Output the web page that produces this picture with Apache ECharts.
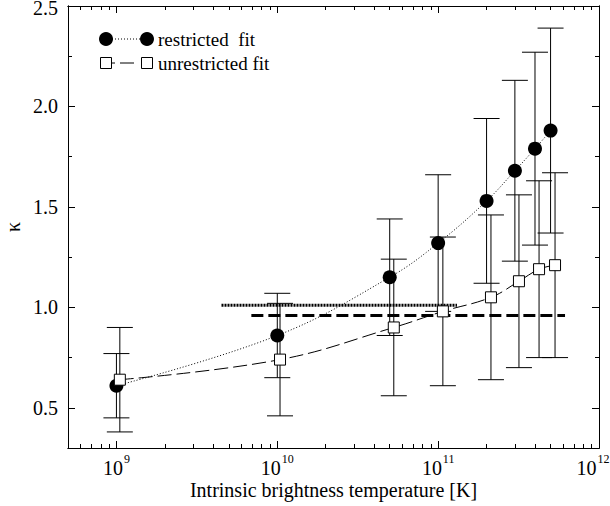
<!DOCTYPE html>
<html><head><meta charset="utf-8">
<script src="https://cdn.jsdelivr.net/npm/echarts@6/dist/echarts.min.js"></script>
<style>html,body{margin:0;padding:0;background:#fff}#c{width:610px;height:506px}</style>
</head><body><div id="c"></div>
<script>
// ---- data ----
const xRestricted   = [1e9, 1e10, 5e10, 1e11, 2e11, 3e11, 4e11, 5e11];
const kRestricted   = [0.61, 0.86, 1.15, 1.32, 1.53, 1.68, 1.79, 1.88];
const errRestricted = [0.16, 0.21, 0.29, 0.34, 0.41, 0.45, 0.48, 0.51];

const xUnrestricted   = [1.05e9, 1.04e10, 5.3e10, 1.07e11, 2.13e11, 3.18e11, 4.24e11, 5.33e11];
const kUnrestricted   = [0.64, 0.74, 0.90, 0.98, 1.05, 1.13, 1.19, 1.21];
const errUnrestricted = [0.26, 0.28, 0.34, 0.37, 0.41, 0.43, 0.44, 0.46];

const meanRestrictedX = [4.5e9, 1.31e11];
const meanRestrictedK = 1.01;
const meanUnrestrictedX = [6.9e9, 6.15e11];
const meanUnrestrictedK = 0.96;

const xMajorTicks = [1e9, 1e10, 1e11, 1e12];
const xMinorTicks = [6e8, 7e8, 8e8, 9e8,
  2e9, 3e9, 4e9, 5e9, 6e9, 7e9, 8e9, 9e9,
  2e10, 3e10, 4e10, 5e10, 6e10, 7e10, 8e10, 9e10,
  2e11, 3e11, 4e11, 5e11, 6e11, 7e11, 8e11, 9e11];
const yMajorTicks = [0.5, 1.0, 1.5, 2.0, 2.5];
const yMinorTicks = [0.75, 1.25, 1.75, 2.25];

const legendNames = ['restricted  fit', 'unrestricted fit'];
const xName = 'Intrinsic brightness temperature [K]';
const yName = 'κ';

// ---- chart ----
const FONT = 'Liberation Serif';
const chart = echarts.init(document.getElementById('c'), null, {renderer: 'svg'});

function xAx(pos, ticks, len, withLabels) {
  const a = {
    type: 'log', logBase: 10, min: 5e8, max: 1e12, position: pos, gridIndex: 0,
    axisLine: {show: true, lineStyle: {color: '#000', width: 1}},
    axisTick: {show: true, inside: true, length: len, customValues: ticks, lineStyle: {color: '#000', width: 1}},
    axisLabel: {show: false},
    splitLine: {show: false}, minorTick: {show: false}, minorSplitLine: {show: false}
  };
  if (withLabels) {
    a.axisLabel = {
      show: true, customValues: xMajorTicks, margin: 5, hideOverlap: false,
      formatter: v => {
        const e = Math.round(Math.log10(v));
        return '{b|10}{s|' + e + '}' + (e >= 12 ? '{sp|}' : '');
      },
      rich: {
        b: {fontFamily: FONT, fontSize: 20, lineHeight: 25, color: '#000', verticalAlign: 'bottom'},
        s: {fontFamily: FONT, fontSize: 12, color: '#000', verticalAlign: 'top', padding: [0, 0, 0, 1]},
        sp: {width: 12, height: 1}
      }
    };
    a.name = xName; a.nameLocation = 'middle'; a.nameGap = 34; a.nameMoveOverlap = false;
    a.nameTextStyle = {fontFamily: FONT, fontSize: 20, color: '#000', lineHeight: 16};
  }
  return a;
}
function yAx(pos, ticks, len, withLabels) {
  const a = {
    type: 'value', min: 0.3, max: 2.5, position: pos, gridIndex: 0,
    axisLine: {show: true, lineStyle: {color: '#000', width: 1}},
    axisTick: {show: true, inside: true, length: len, customValues: ticks, lineStyle: {color: '#000', width: 1}},
    axisLabel: {show: false},
    splitLine: {show: false}
  };
  if (withLabels) {
    a.axisLabel = {show: true, customValues: yMajorTicks, margin: 10,
      formatter: v => (v >= 2.5 ? '{top|' + v.toFixed(1) + '}' : v.toFixed(1)),
      lineHeight: 12, fontFamily: FONT, fontSize: 20, color: '#000',
      rich: {top: {fontFamily: FONT, fontSize: 20, color: '#000', lineHeight: 12, padding: [4, 0, 0, 0]}}};
    a.name = yName; a.nameLocation = 'middle'; a.nameRotate = 90; a.nameGap = 47; a.nameMoveOverlap = false;
    a.nameTextStyle = {fontFamily: FONT, fontSize: 20, color: '#000', lineHeight: 16};
  }
  return a;
}

function errorSeries(xs, ks, es, z) {
  return {
    type: 'custom', xAxisIndex: 0, yAxisIndex: 0, z: z, silent: true,
    data: xs.map((x, i) => [x, ks[i] - es[i], ks[i] + es[i]]),
    encode: {x: 0, y: [1, 2]},
    renderItem(params, api) {
      const x = api.value(0);
      const lo = api.coord([x, api.value(1)]);
      const hi = api.coord([x, api.value(2)]);
      const w = 13;
      const style = {stroke: '#000', lineWidth: 1, fill: null};
      return {type: 'group', children: [
        {type: 'line', shape: {x1: lo[0], y1: lo[1], x2: hi[0], y2: hi[1]}, style},
        {type: 'line', shape: {x1: lo[0] - w, y1: lo[1], x2: lo[0] + w, y2: lo[1]}, style},
        {type: 'line', shape: {x1: hi[0] - w, y1: hi[1], x2: hi[0] + w, y2: hi[1]}, style}
      ]};
    }
  };
}

const option = {
  animation: false,
  backgroundColor: '#fff',
  grid: {left: 68, right: 11, top: 6, bottom: 58, containLabel: false, outerBoundsMode: 'none'},
  xAxis: [
    xAx('bottom', xMajorTicks, 7, true),
    xAx('bottom', xMinorTicks, 4, false),
    xAx('top', xMajorTicks, 7, false),
    xAx('top', xMinorTicks, 4, false)
  ],
  yAxis: [
    yAx('left', yMajorTicks, 7, true),
    yAx('left', yMinorTicks, 4, false),
    yAx('right', yMajorTicks, 7, false),
    yAx('right', yMinorTicks, 4, false)
  ],
  series: [
    {
      type: 'line', xAxisIndex: 0, yAxisIndex: 0, z: 2, symbol: 'none', silent: true,
      data: meanRestrictedX.map(x => [x, meanRestrictedK]),
      lineStyle: {color: '#000', width: 3, type: [2, 1]}
    },
    {
      type: 'line', xAxisIndex: 0, yAxisIndex: 0, z: 2, symbol: 'none', silent: true,
      data: meanUnrestrictedX.map(x => [x, meanUnrestrictedK]),
      lineStyle: {color: '#000', width: 3, type: [12, 5]}
    },
    errorSeries(xRestricted, kRestricted, errRestricted, 3),
    errorSeries(xUnrestricted, kUnrestricted, errUnrestricted, 3),
    {
      name: legendNames[0], type: 'line', xAxisIndex: 0, yAxisIndex: 0, z: 4,
      data: xRestricted.map((x, i) => [x, kRestricted[i]]),
      symbol: 'circle', symbolSize: 14, smooth: 0.4,
      itemStyle: {color: '#000'},
      lineStyle: {color: '#000', width: 1, type: [1, 2]}
    },
    {
      name: legendNames[1], type: 'line', xAxisIndex: 0, yAxisIndex: 0, z: 5,
      data: xUnrestricted.map((x, i) => [x, kUnrestricted[i]]),
      symbol: 'rect', symbolSize: 11, smooth: 0.4,
      itemStyle: {color: '#fff', borderColor: '#000', borderWidth: 1},
      lineStyle: {color: '#000', width: 1, type: [14, 5]}
    }
  ],
  graphic: [
    {type: 'line', shape: {x1: 106, y1: 39, x2: 147, y2: 39}, style: {stroke: '#000', lineWidth: 1, lineDash: [1, 2]}},
    {type: 'circle', shape: {cx: 106, cy: 39, r: 7}, style: {fill: '#000'}},
    {type: 'circle', shape: {cx: 147, cy: 39, r: 7}, style: {fill: '#000'}},
    {type: 'text', x: 158, y: 39, style: {text: legendNames[0], font: '19px "Liberation Serif"', fill: '#000', verticalAlign: 'middle'}},
    {type: 'line', shape: {x1: 112, y1: 63, x2: 141, y2: 63}, style: {stroke: '#000', lineWidth: 1, lineDash: [3, 5, 14, 7]}},
    {type: 'rect', shape: {x: 100.5, y: 57.5, width: 11, height: 11}, style: {fill: '#fff', stroke: '#000', lineWidth: 1}},
    {type: 'rect', shape: {x: 141.5, y: 57.5, width: 11, height: 11}, style: {fill: '#fff', stroke: '#000', lineWidth: 1}},
    {type: 'text', x: 158, y: 63, style: {text: legendNames[1], font: '19px "Liberation Serif"', fill: '#000', verticalAlign: 'middle'}}
  ]
};
chart.setOption(option);
</script>
</body></html>
